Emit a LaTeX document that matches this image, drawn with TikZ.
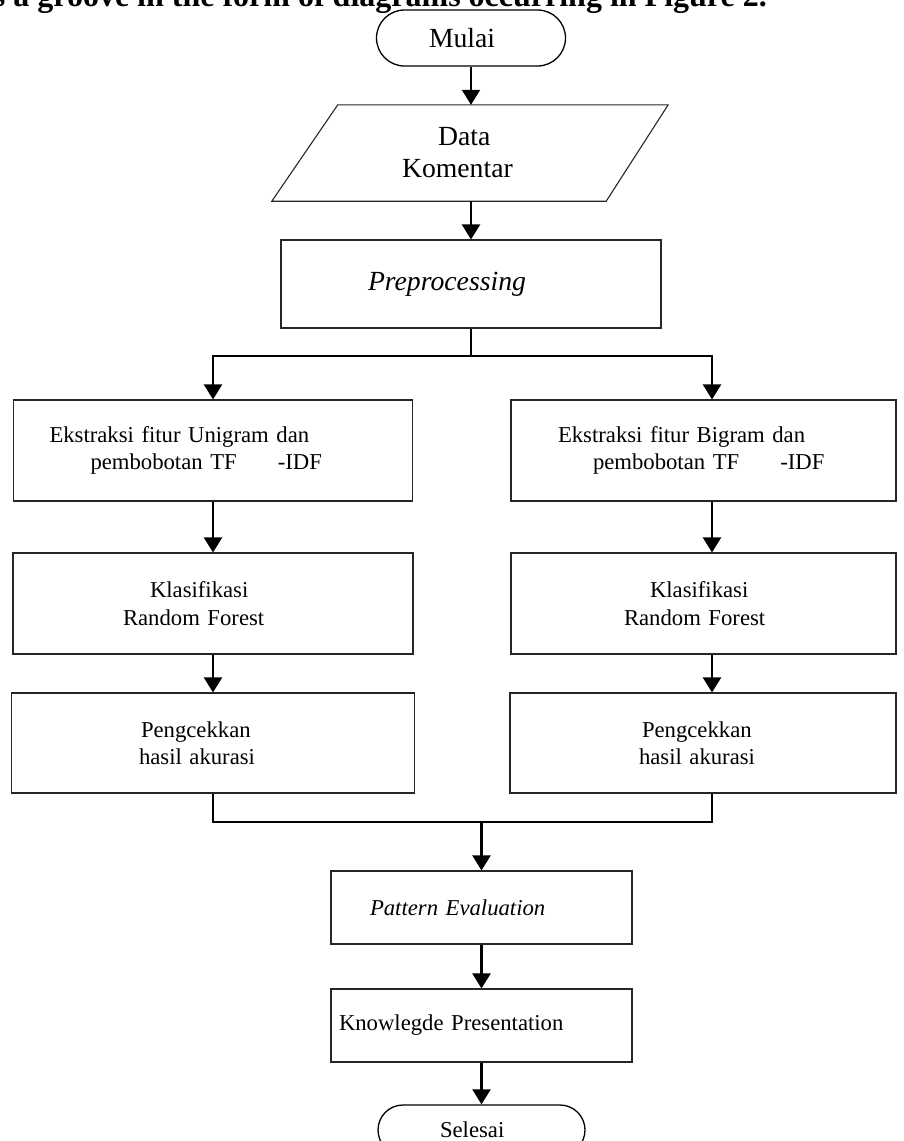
\documentclass[tikz,border=0pt]{standalone}
\usepackage{fontspec}
\setmainfont{Liberation Serif}
\usetikzlibrary{arrows.meta}

\newcommand{\hurufbesar}{\fontsize{27.7}{32}\selectfont}
\newcommand{\hurufkecil}{\fontsize{22.7}{27.5}\selectfont}

\tikzset{
  kotak/.style={draw=black!85, line width=1.1pt, rectangle, inner xsep=0pt, align=left, font=\hurufkecil},
  ujung/.style={draw=black, line width=1.3pt, rounded corners=#1, inner sep=0pt, align=left},
  panah/.style={line width=2.2pt, -{Triangle[length=15pt,width=18pt]}},
  garis/.style={line width=2.2pt}
}

\begin{document}
\begin{tikzpicture}[x=1pt,y=-1pt]
\useasboundingbox (0,0) rectangle (903,1141);
\clip (0,0) rectangle (903,1141);

% baris teks yang terpotong di atas
\node[anchor=base east, inner sep=0pt, font=\fontsize{32}{36}\selectfont\bfseries] (judul) at (767,6) {s a groove in the form of diagrams occurring in Figure 2.};

% alur utama
\node[ujung=28pt, minimum width=189pt, minimum height=56pt, text width=84pt, font=\hurufbesar] (mulai) at (471,38) {Mulai};
\node[minimum width=332pt, minimum height=96pt, inner xsep=0pt, text width=138pt, align=left, font=\hurufbesar] (data) at (471,153)
  {\hspace*{36pt}Data\\Komentar};
\draw[draw=black!85, line width=1.1pt] ([xshift=-33pt]data.south west) -- ([xshift=33pt]data.north west)
  -- ([xshift=31pt]data.north east) -- ([xshift=-31pt]data.south east) -- cycle;
\node[kotak, minimum width=380pt, minimum height=88pt, text width=206pt, font=\hurufbesar\itshape] (prepro) at (471,284) {Preprocessing};

% kolom kiri (unigram)
\node[kotak, minimum width=399pt, minimum height=101pt, text width=327pt] (ekuni) at (213,450.5)
  {Ekstraksi fitur Unigram dan\\\hspace*{41pt}pembobotan TF\hspace{41pt}-IDF};
\node[kotak, minimum width=400pt, minimum height=101pt, text width=180pt] (kluni) at (213,603.5)
  {\hspace*{27pt}Klasifikasi\\Random Forest};
\node[kotak, minimum width=403pt, minimum height=100pt, text width=148pt] (cekuni) at (213,743)
  {\hspace*{2pt}Pengcekkan\\hasil akurasi};

% kolom kanan (bigram)
\coordinate (kanan) at (712,0);
\node[kotak, minimum width=385pt, minimum height=101pt, text width=291pt] (ekbi) at (703.5,450.5)
  {Ekstraksi fitur Bigram dan\\\hspace*{35pt}pembobotan TF\hspace{41pt}-IDF};
\node[kotak, minimum width=385pt, minimum height=101pt, text width=159pt] (klbi) at (703.5,603.5)
  {\hspace*{26pt}Klasifikasi\\Random Forest};
\node[kotak, minimum width=386pt, minimum height=100pt, text width=128pt] (cekbi) at (703,743)
  {\hspace*{3pt}Pengcekkan\\hasil akurasi};

% evaluasi
\node[kotak, minimum width=301pt, minimum height=73pt, text width=223pt, font=\hurufkecil\itshape] (pola) at (481.5,907.5) {Pattern Evaluation};
\node[kotak, minimum width=301pt, minimum height=73pt, text width=285pt] (sajian) at (481.5,1025.5) {Knowlegde Presentation};
\node[ujung=25pt, minimum width=207pt, minimum height=50pt, text width=83pt, font=\hurufkecil] (selesai) at (481.5,1130) {Selesai};

% garis dan panah
\coordinate (pisah) at (471,356);
\coordinate (gabung) at (481.5,822);
\draw[panah] (mulai) -- (data);
\draw[panah] (data) -- (prepro);
\draw[garis] (prepro) -- (pisah);
\draw[panah] (pisah) -| (ekuni.north);
\draw[panah] (pisah) -| (ekbi.north -| kanan);
\draw[panah] (ekuni) -- (kluni);
\draw[panah] (kluni) -- (cekuni);
\draw[panah] (ekbi.south -| kanan) -- (klbi.north -| kanan);
\draw[panah] (klbi.south -| kanan) -- (cekbi.north -| kanan);
\draw[garis] (cekuni.south) -- (cekuni.south |- gabung) -- (gabung -| kanan) -- (cekbi.south -| kanan);
\draw[panah] (gabung) -- (pola);
\draw[panah] (pola) -- (sajian);
\draw[panah] (sajian) -- (selesai);
\end{tikzpicture}
\end{document}
